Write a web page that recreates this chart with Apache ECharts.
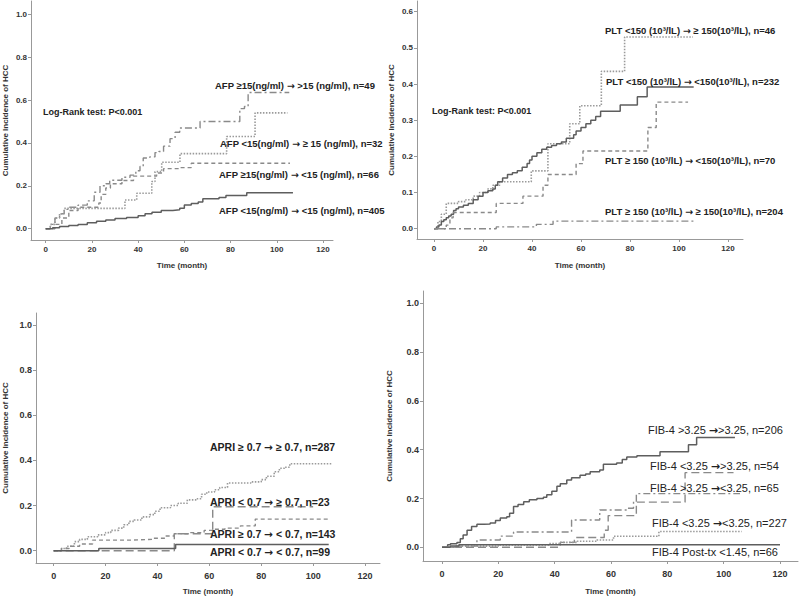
<!DOCTYPE html>
<html>
<head>
<meta charset="utf-8">
<script src="https://cdn.jsdelivr.net/npm/echarts@6/dist/echarts.min.js"></script>
<style>html,body{margin:0;padding:0;background:#fff}#c{width:800px;height:600px}</style>
</head>
<body>
<div id="c"></div>
<script>
// ---------- tick labels ----------
var xTicks = [0, 20, 40, 60, 80, 100, 120];
var yTicksFull = [0, 0.2, 0.4, 0.6, 0.8, 1.0];
var yTicksPlt = [0, 0.1, 0.2, 0.3, 0.4, 0.5, 0.6];
var xAxisTitle = 'Time (month)';
var yAxisTitle = 'Cumulative Incidence of HCC';
var logRank = 'Log-Rank test: P<0.001';

// ---------- Panel 1: AFP ----------
var afpNames = [
  'AFP \u226515(ng/ml) \u2192 >15 (ng/ml), n=49',
  'AFP <15(ng/ml) \u2192 \u2265 15 (ng/ml), n=32',
  'AFP \u226515(ng/ml) \u2192 <15 (ng/ml), n=66',
  'AFP <15(ng/ml) \u2192 <15 (ng/ml), n=405'
];
var afpHighHigh = [[0,0],[2,0.02],[4,0.05],[6,0.07],[8,0.09],[10,0.10],[14,0.11],[18,0.13],[21,0.17],[23.5,0.20],[26,0.21],[27.7,0.226],[33,0.24],[36.5,0.25],[39,0.27],[40.8,0.29],[42.2,0.33],[45,0.335],[47.3,0.355],[49,0.36],[51,0.385],[53.8,0.42],[56,0.45],[58,0.47],[66.8,0.50],[84,0.56],[86,0.57],[87.6,0.635],[105.4,0.635]];
var afpLowHigh = [[0,0],[2,0.02],[4,0.05],[6,0.07],[8,0.095],[34.3,0.134],[39.4,0.165],[45.9,0.22],[47.3,0.266],[50.2,0.31],[58.1,0.35],[78.3,0.43],[90.6,0.54],[104.6,0.54]];
var afpHighLow = [[0,0],[4,0.02],[7,0.05],[10,0.085],[14,0.10],[23,0.12],[24,0.16],[26,0.19],[28,0.21],[33,0.225],[38,0.245],[48,0.26],[51,0.28],[58,0.285],[63,0.305],[105.7,0.305]];
var afpLowLow = [[0,0],[3,0.005],[6,0.01],[10,0.015],[14,0.02],[18,0.028],[22,0.035],[26,0.04],[30,0.047],[35,0.052],[40,0.06],[43,0.07],[46,0.077],[50,0.085],[55,0.088],[58,0.095],[60,0.11],[63,0.117],[66,0.125],[68,0.14],[75,0.145],[78,0.155],[87,0.168],[107,0.168]];

// ---------- Panel 2: PLT ----------
var pltNames = [
  'PLT <150 (10\u00b3/lL) \u2192 \u2265 150(10\u00b3/lL), n=46',
  'PLT <150 (10\u00b3/lL) \u2192 <150(10\u00b3/lL), n=232',
  'PLT \u2265 150 (10\u00b3/lL) \u2192 <150(10\u00b3/lL), n=70',
  'PLT \u2265 150 (10\u00b3/lL) \u2192 \u2265 150(10\u00b3/lL), n=204'
];
var pltLowHigh = [[0,0],[1.6,0.02],[3,0.04],[5,0.07],[10,0.075],[13,0.08],[16,0.09],[18.6,0.10],[22,0.11],[24,0.12],[26.8,0.13],[39.7,0.16],[46.5,0.235],[55.4,0.29],[59.5,0.34],[68.3,0.435],[77.8,0.53],[105.7,0.53]];
var pltLowLow = [[0,0],[1,0.005],[2,0.01],[3,0.02],[4,0.025],[5,0.03],[6,0.035],[7,0.04],[8,0.05],[9,0.055],[10,0.06],[12,0.065],[14,0.07],[16,0.08],[18,0.09],[20,0.10],[22,0.105],[24,0.11],[25,0.12],[26,0.13],[28,0.14],[30,0.15],[32,0.155],[34,0.16],[36,0.17],[38,0.18],[39,0.19],[40,0.20],[42,0.21],[44,0.22],[46,0.225],[48,0.23],[50,0.235],[52,0.24],[54,0.25],[57,0.26],[58,0.27],[60,0.28],[62,0.29],[64,0.30],[66,0.31],[68,0.325],[76,0.342],[83,0.365],[87,0.392],[106,0.392]];
var pltHighLow = [[0,0],[5,0.01],[6.5,0.03],[7.8,0.045],[25.4,0.07],[36.3,0.09],[44.5,0.12],[46.5,0.15],[58,0.18],[60.8,0.215],[87.3,0.28],[90.7,0.35],[103.7,0.35]];
var pltHighHigh = [[0,0],[25.4,0.005],[41.8,0.012],[48.6,0.021],[106,0.021]];

// ---------- Panel 3: APRI ----------
var apriNames = [
  'APRI \u2265 0.7 \u2192 \u2265 0.7, n=287',
  'APRI < 0.7 \u2192 \u2265 0.7, n=23',
  'APRI \u2265 0.7 \u2192 < 0.7, n=143',
  'APRI < 0.7 \u2192 < 0.7, n=99'
];
var apriHighHigh = [[0,0],[3,0.01],[5,0.02],[8,0.04],[10,0.05],[13,0.062],[17,0.07],[20,0.08],[22,0.09],[25,0.10],[27,0.115],[29,0.13],[31,0.136],[34,0.15],[37,0.16],[39,0.175],[41,0.19],[45,0.20],[48,0.21],[51.5,0.225],[55,0.23],[57,0.25],[59,0.26],[62,0.27],[64,0.28],[67,0.30],[76,0.305],[80,0.315],[82,0.33],[85,0.35],[87,0.365],[89,0.37],[91,0.385],[107,0.385]];
var apriLowHigh = [[0,0],[46.5,0.075],[61.3,0.195],[100,0.195]];
var apriHighLow = [[0,0],[3,0.01],[6,0.02],[10,0.03],[15,0.047],[30,0.05],[38,0.055],[43,0.065],[46.5,0.075],[52,0.08],[58,0.09],[62,0.095],[66,0.10],[72,0.11],[77.7,0.14],[106,0.14]];
var apriLowLow = [[0,0],[17.4,0.01],[47,0.028],[106,0.028]];

// ---------- Panel 4: FIB-4 ----------
var fibNames = [
  'FIB-4 >3.25 \u2192>3.25, n=206',
  'FIB-4 <3.25 \u2192>3.25, n=54',
  'FIB-4 >3.25 \u2192<3.25, n=65',
  'FIB-4 <3.25 \u2192<3.25, n=227',
  'FIB-4 Post-tx <1.45, n=66'
];
var fibHighHigh = [[0,0],[2,0.01],[3,0.015],[5.3,0.02],[6.5,0.035],[7.5,0.05],[8.9,0.07],[10.5,0.085],[12.4,0.094],[15,0.095],[17.1,0.10],[19,0.11],[20.7,0.12],[23,0.125],[24,0.14],[25.4,0.167],[27,0.175],[29,0.187],[31,0.195],[33.7,0.20],[36,0.205],[37.2,0.215],[39,0.23],[40.8,0.25],[42,0.26],[44.3,0.276],[46,0.285],[49,0.295],[51,0.30],[52.6,0.31],[56,0.317],[57.3,0.34],[62,0.345],[64,0.36],[65.6,0.37],[69.2,0.375],[77.4,0.392],[87.5,0.42],[90.4,0.45],[104,0.45]];
var fibLowHigh = [[0,0],[42,0.02],[47,0.04],[57.6,0.07],[59,0.13],[69,0.185],[86.3,0.306],[103.5,0.306]];
var fibHighLow = [[0,0],[5,0.005],[12.4,0.03],[20.7,0.046],[25.4,0.063],[46,0.112],[56,0.153],[66,0.16],[68,0.187],[69,0.22],[105.8,0.22]];
var fibLowLow = [[0,0],[5,0.005],[20,0.01],[38,0.015],[42,0.02],[48,0.025],[55,0.03],[60.9,0.045],[77,0.065],[106.4,0.065]];
var fibPost = [[0,0],[3,0.005],[6,0.01],[120,0.01]];

// ---------- layout ----------
var panels = [
  {box:[31,1,333,240], xc:[45.7,0,323,120], yc:[228.7,0,14.3,1.0], yTicks:yTicksFull, nameGapY:22, nameGapX:21, lblMarginX:5, tickFont:8},
  {box:[417,1,743,239], xc:[434,0,728,120], yc:[228.7,0,11.7,0.6], yTicks:yTicksPlt, nameGapY:22, nameGapX:22, lblMarginX:5, tickFont:8},
  {box:[35,313,380,563], xc:[52.7,0,365,120], yc:[550.7,0,325,1.0], yTicks:yTicksFull, nameGapY:27, nameGapX:24, lblMarginX:8, tickFont:9},
  {box:[423,291,798,561], xc:[442,0,780,120], yc:[547.3,0,303.3,1.0], yTicks:yTicksFull, nameGapY:30, nameGapX:26, lblMarginX:8, tickFont:9}
];
function valAt(c, p){ return c[1] + (p - c[0]) * (c[3] - c[1]) / (c[2] - c[0]); }

var grids = [], xAxes = [], yAxes = [];
panels.forEach(function(p, i){
  var b = p.box;
  grids.push({left:b[0], top:b[1], width:b[2]-b[0], height:b[3]-b[1], containLabel:false});
  xAxes.push({
    type:'value', gridIndex:i, min:valAt(p.xc,b[0]), max:valAt(p.xc,b[2]),
    name:xAxisTitle, nameLocation:'middle', nameGap:p.nameGapX,
    nameTextStyle:{fontFamily:'Liberation Sans', fontWeight:'bold', fontSize:8, color:'#333'},
    axisLine:{show:true, onZero:false, lineStyle:{color:'#999', width:1}},
    axisTick:{show:true, customValues:xTicks, length:3, lineStyle:{color:'#999'}},
    axisLabel:{customValues:xTicks, margin:p.lblMarginX, fontFamily:'Liberation Sans', fontWeight:'bold', fontSize:p.tickFont, color:'#333'},
    splitLine:{show:false}
  });
  yAxes.push({
    type:'value', gridIndex:i, min:valAt(p.yc,b[3]), max:valAt(p.yc,b[1]),
    name:yAxisTitle, nameLocation:'middle', nameGap:p.nameGapY, nameRotate:90,
    nameTextStyle:{fontFamily:'Liberation Sans', fontWeight:'bold', fontSize:8, color:'#333'},
    axisLine:{show:true, onZero:false, lineStyle:{color:'#999', width:1}},
    axisTick:{show:true, customValues:p.yTicks, length:3, lineStyle:{color:'#999'}},
    axisLabel:{customValues:p.yTicks, margin:4, formatter:function(v){return v.toFixed(1);}, fontFamily:'Liberation Sans', fontWeight:'bold', fontSize:p.tickFont, color:'#333'},
    splitLine:{show:false}
  });
});

var SOLID = {color:'#5e5e5e', width:1.5, type:'solid'};
var DOTTED = {color:'#9a9a9a', width:1.6, type:[1.5,1.5]};
var DASHED = {color:'#8a8a8a', width:1.4, type:[4,3]};
var LONGDASH = {color:'#8a8a8a', width:1.4, type:[8,4]};
var DASHDOT = {color:'#8a8a8a', width:1.4, type:[7,3,2,3]};

function km(name, data, gi, style){
  return {type:'line', name:name, xAxisIndex:gi, yAxisIndex:gi, data:data, step:'end',
    symbol:'none', showSymbol:false, lineStyle:style, silent:true, animation:false, z:2};
}

var series = [
  km(afpNames[0], afpHighHigh, 0, DASHDOT),
  km(afpNames[1], afpLowHigh, 0, DOTTED),
  km(afpNames[2], afpHighLow, 0, DASHED),
  km(afpNames[3], afpLowLow, 0, SOLID),
  km(pltNames[0], pltLowHigh, 1, DOTTED),
  km(pltNames[1], pltLowLow, 1, SOLID),
  km(pltNames[2], pltHighLow, 1, DASHED),
  km(pltNames[3], pltHighHigh, 1, DASHDOT),
  km(apriNames[0], apriHighHigh, 2, DOTTED),
  km(apriNames[1], apriLowHigh, 2, LONGDASH),
  km(apriNames[2], apriHighLow, 2, DASHED),
  km(apriNames[3], apriLowLow, 2, SOLID),
  km(fibNames[0], fibHighHigh, 3, SOLID),
  km(fibNames[1], fibLowHigh, 3, LONGDASH),
  km(fibNames[2], fibHighLow, 3, DASHDOT),
  km(fibNames[3], fibLowLow, 3, DOTTED),
  km(fibNames[4], fibPost, 3, SOLID)
];

// text label with the arrow drawn in a font that has a full-size arrow glyph
function txt(s, x, y, size, weight){
  var rich = s.replace(/\u2192/g, '{a|\u2192}');
  return {type:'text', x:x, y:y, z:10, silent:true,
    style:{text:rich, fontFamily:'Liberation Sans', fontSize:size, fontWeight:weight,
      fill:'#222', textAlign:'left', textVerticalAlign:'middle',
      rich:{a:{fontFamily:'DejaVu Sans', fontSize:size, fontWeight:'bold', fill:'#222'}}}};
}
var labels = [
  txt(logRank, 43, 112, 9, 'bold'),
  txt(afpNames[0], 215, 85, 9.5, 'bold'),
  txt(afpNames[1], 220, 143, 9.5, 'bold'),
  txt(afpNames[2], 219, 174, 9.5, 'bold'),
  txt(afpNames[3], 219, 210, 9.5, 'bold'),
  txt(logRank, 432, 111, 9, 'bold'),
  txt(pltNames[0], 605, 30, 9.5, 'bold'),
  txt(pltNames[1], 606, 81, 9.5, 'bold'),
  txt(pltNames[2], 605, 160, 9.5, 'bold'),
  txt(pltNames[3], 605, 211, 9.5, 'bold'),
  txt(apriNames[0], 210, 447, 10.5, 'bold'),
  txt(apriNames[1], 210, 502, 10.5, 'bold'),
  txt(apriNames[2], 210, 534, 10.5, 'bold'),
  txt(apriNames[3], 210, 552, 10.5, 'bold'),
  txt(fibNames[0], 648, 430, 11, 'normal'),
  txt(fibNames[1], 650, 466, 11, 'normal'),
  txt(fibNames[2], 650, 488, 11, 'normal'),
  txt(fibNames[3], 652, 523, 11, 'normal'),
  txt(fibNames[4], 652, 552, 11, 'normal')
];

var chart = echarts.init(document.getElementById('c'), null, {renderer:'svg', width:800, height:600});
chart.setOption({
  backgroundColor:'#ffffff',
  animation:false,
  grid:grids, xAxis:xAxes, yAxis:yAxes, series:series,
  graphic:labels
});
</script>
</body>
</html>
